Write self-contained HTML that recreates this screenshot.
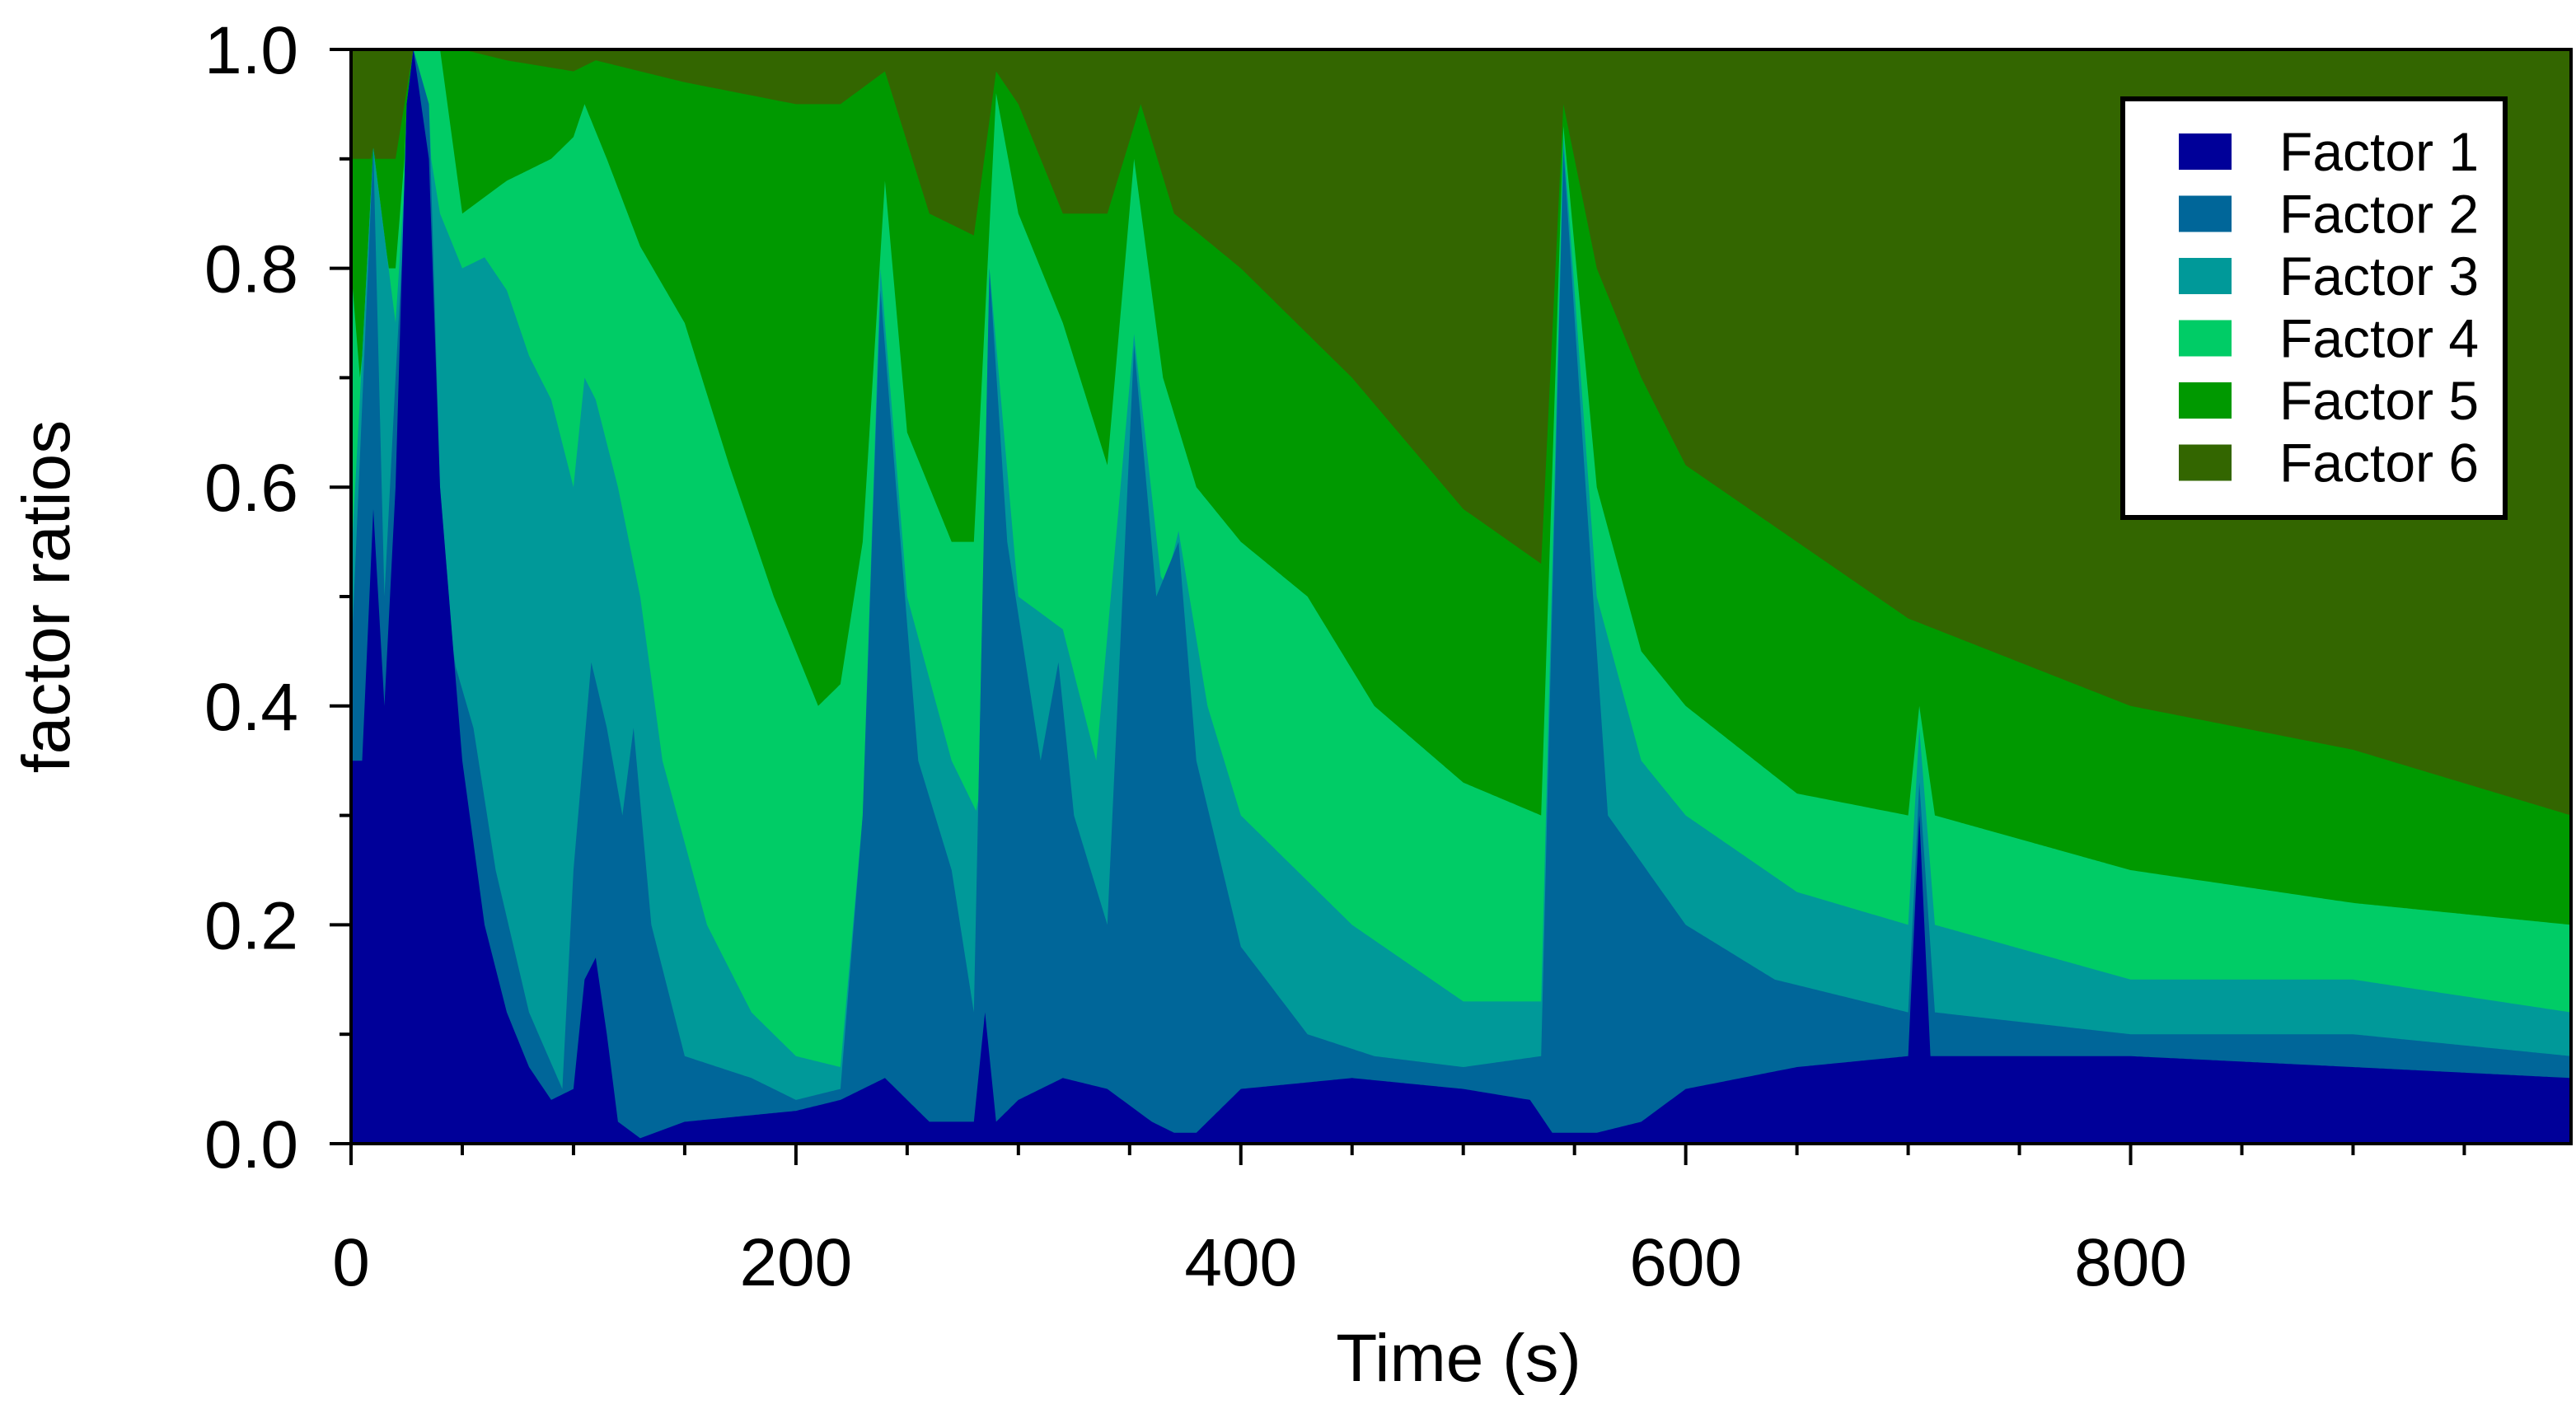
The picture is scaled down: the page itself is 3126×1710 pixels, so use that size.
<!DOCTYPE html>
<html><head><meta charset="utf-8"><style>
html,body{margin:0;padding:0;background:#fff;}
svg{display:block;font-family:"Liberation Sans",sans-serif;}
</style></head><body>
<svg id="chart" width="3126" height="1710" viewBox="0 0 3126 1710" xmlns="http://www.w3.org/2000/svg">
<g id="areas"></g>
<rect x="426" y="60" width="2694" height="1328" fill="none" stroke="#000" stroke-width="4"/>
<g id="axes"></g>
<text x="1770" y="1676" font-size="82" text-anchor="middle">Time (s)</text>
<text transform="translate(84,724) rotate(-90)" font-size="82" text-anchor="middle">factor ratios</text>
<g id="legend"></g>
</svg>
<script>
const factorNames=["Factor 1","Factor 2","Factor 3","Factor 4","Factor 5","Factor 6"];
const factorColors=["#000099","#006699","#009999","#00cc66","#009900","#336600"];
const xTicks=[0,200,400,600,800];
const yTicks=[0,0.2,0.4,0.6,0.8,1.0];
const yTickLabels=["0.0","0.2","0.4","0.6","0.8","1.0"];
// cumulative top boundary of factors 1..5 (factor 6 fills to 1.0)
const t1=[0,5,10,15,20,25,28,35,40,50,60,70,80,90,100,105,110,115,120,130,150,200,220,240,260,280,285,290,300,320,340,360,370,380,400,450,500,530,540,560,580,600,650,700,705,710,800,900,998];
const c1=[0.35,0.35,0.58,0.4,0.6,0.95,1.0,0.9,0.6,0.35,0.2,0.12,0.07,0.04,0.05,0.15,0.17,0.1,0.02,0.005,0.02,0.03,0.04,0.06,0.02,0.02,0.12,0.02,0.04,0.06,0.05,0.02,0.01,0.01,0.05,0.06,0.05,0.04,0.01,0.01,0.02,0.05,0.07,0.08,0.3,0.08,0.08,0.07,0.06];
const t2=[0,10,15,20,28,35,40,45,55,65,80,95,100,108,115,122,127,135,150,180,200,220,230,238,245,255,270,280,287,295,310,318,325,340,352,362,372,380,400,430,460,500,535,545,555,565,600,640,700,705,712,800,900,998];
const c2=[0.44,0.91,0.5,0.7,1.0,0.95,0.6,0.45,0.38,0.25,0.12,0.05,0.25,0.44,0.38,0.3,0.38,0.2,0.08,0.06,0.04,0.05,0.3,0.78,0.6,0.35,0.25,0.12,0.8,0.55,0.35,0.44,0.3,0.2,0.73,0.5,0.55,0.35,0.18,0.1,0.08,0.07,0.08,0.91,0.6,0.3,0.2,0.15,0.12,0.33,0.12,0.1,0.1,0.08];
const t3=[0,10,20,28,40,50,60,70,80,90,100,105,110,120,130,140,160,180,200,220,230,238,250,270,282,287,300,320,335,352,365,372,385,400,450,500,535,545,560,580,600,650,700,705,712,800,900,998];
const c3=[0.53,0.91,0.75,1.0,0.85,0.8,0.81,0.78,0.72,0.68,0.6,0.7,0.68,0.6,0.5,0.35,0.2,0.12,0.08,0.07,0.3,0.8,0.5,0.35,0.3,0.8,0.5,0.47,0.35,0.74,0.5,0.56,0.4,0.3,0.2,0.13,0.13,0.92,0.5,0.35,0.3,0.23,0.2,0.38,0.2,0.15,0.15,0.12];
const t4=[0,8,10,15,20,28,40,50,70,90,100,105,115,130,150,170,190,210,220,230,240,250,270,280,290,300,320,340,352,365,380,400,430,460,500,535,545,560,580,600,650,700,705,712,800,900,998];
const c4=[0.8,0.6,0.91,0.8,0.8,1.0,1.0,0.85,0.88,0.9,0.92,0.95,0.9,0.82,0.75,0.62,0.5,0.4,0.42,0.55,0.88,0.65,0.55,0.55,0.96,0.85,0.75,0.62,0.9,0.7,0.6,0.55,0.5,0.4,0.33,0.3,0.93,0.6,0.45,0.4,0.32,0.3,0.4,0.3,0.25,0.22,0.2];
const t5=[0,10,20,28,50,70,100,110,150,200,220,240,260,280,290,300,320,340,355,370,400,450,500,535,545,560,580,600,650,700,750,800,900,998];
const c5=[0.9,0.9,0.9,1.0,1.0,0.99,0.98,0.99,0.97,0.95,0.95,0.98,0.85,0.83,0.98,0.95,0.85,0.85,0.95,0.85,0.8,0.7,0.58,0.53,0.95,0.8,0.7,0.62,0.55,0.48,0.44,0.4,0.36,0.3];

const X0=426,X1=3120,Y0=1388,Y1=60,XMAX=998;
const xs=v=>X0+(v/XMAX)*(X1-X0);
const ys=v=>Y0-v*(Y0-Y1);
const NS="http://www.w3.org/2000/svg";
function interp(ts,cs,t){
  if(t<=ts[0])return cs[0];
  for(let i=1;i<ts.length;i++){if(t<=ts[i]){const f=(t-ts[i-1])/(ts[i]-ts[i-1]);return cs[i-1]+f*(cs[i]-cs[i-1]);}}
  return cs[cs.length-1];
}
const grid=[];for(let t=0;t<=XMAX;t+=1)grid.push(t);
const tops=[[t1,c1],[t2,c2],[t3,c3],[t4,c4],[t5,c5]];
const layers=[];
let prev=grid.map(()=>0);
tops.forEach(([ts,cs])=>{const cur=grid.map((t,i)=>Math.min(1,Math.max(prev[i],interp(ts,cs,t))));layers.push(cur);prev=cur;});
layers.push(grid.map(()=>1));
const areas=document.getElementById('areas');
for(let k=5;k>=0;k--){
  const L=layers[k];
  let d="M"+xs(0)+","+ys(0);
  grid.forEach((t,i)=>{d+=" L"+xs(t).toFixed(1)+","+ys(L[i]).toFixed(1);});
  d+=" L"+xs(XMAX)+","+ys(0)+" Z";
  const p=document.createElementNS(NS,'path');
  p.setAttribute('d',d);p.setAttribute('fill',factorColors[k]);
  
  
  areas.appendChild(p);
}
const axes=document.getElementById('axes');
function line(x1,y1,x2,y2,name){const l=document.createElementNS(NS,'line');l.setAttribute('x1',x1);l.setAttribute('y1',y1);l.setAttribute('x2',x2);l.setAttribute('y2',y2);l.setAttribute('stroke','#000');l.setAttribute('stroke-width',4);


axes.appendChild(l);}
function text(x,y,s,anchor,name){const e=document.createElementNS(NS,'text');e.setAttribute('x',x);e.setAttribute('y',y);e.setAttribute('font-size',82);e.setAttribute('text-anchor',anchor);e.textContent=s;


axes.appendChild(e);}
for(let v=0;v<=XMAX;v+=50){const maj=v%200===0;line(xs(v),Y0,xs(v),Y0+(maj?26:14),'x-tick');}
xTicks.forEach(v=>text(xs(v),1560,String(v),'middle','x-tick-label'));
for(let i=0;i<=10;i++){const v=i/10;const maj=i%2===0;line(X0,ys(v),X0-(maj?26:14),ys(v),'y-tick');}
yTicks.forEach((v,i)=>text(362,ys(v)+29,yTickLabels[i],'end','y-tick-label'));
const lg=document.getElementById('legend');
const box=document.createElementNS(NS,'rect');
box.setAttribute('x',2576);box.setAttribute('y',120);box.setAttribute('width',464);box.setAttribute('height',508);
box.setAttribute('fill','#fff');box.setAttribute('stroke','#000');box.setAttribute('stroke-width',6);


lg.appendChild(box);
factorNames.forEach((n,i)=>{
  const y=184+i*75.5;
  const r=document.createElementNS(NS,'rect');
  r.setAttribute('x',2644);r.setAttribute('y',y-22);r.setAttribute('width',64);r.setAttribute('height',44);r.setAttribute('fill',factorColors[i]);
  
  
  lg.appendChild(r);
  const t=document.createElementNS(NS,'text');
  t.setAttribute('x',2766);t.setAttribute('y',y+23);t.setAttribute('font-size',66);t.textContent=n;
  
  
  lg.appendChild(t);
});
</script>
</body></html>
